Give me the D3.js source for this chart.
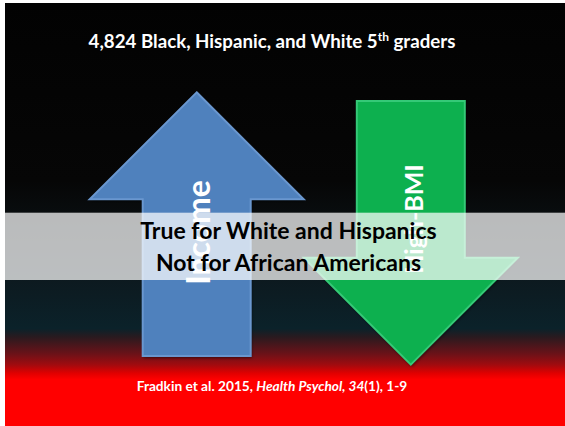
<!DOCTYPE html>
<html><head><meta charset="utf-8">
<script src="https://cdn.jsdelivr.net/npm/d3@7/dist/d3.min.js"></script>
<style>html,body{margin:0;padding:0;background:#fff;}svg{display:block;}</style>
</head><body>
<script>
// ---- data ----
const categories = ["Income", "High-BMI"];
const directions = ["up", "down"];
const arrowColors = ["#4f81bd", "#07b050"];
const arrowEdge = ["#6a97cf", "#35c977"];
const titleText = "4,824 Black, Hispanic, and White 5";
const titleSup = "th";
const titleTail = " graders";
const bandLines = ["True for White and Hispanics", "Not for African Americans"];
const citeParts = [["Fradkin et al. 2015, ", "normal"], ["Health Psychol, 34", "italic"], ["(1), 1-9", "normal"]];

const W = 565, H = 426;
const svg = d3.select("body").append("svg").attr("width", W).attr("height", H);
const defs = svg.append("defs");
const bg = defs.append("linearGradient").attr("id", "bg").attr("gradientUnits", "userSpaceOnUse")
  .attr("x1", 0).attr("y1", 3).attr("x2", 0).attr("y2", 426);
[[0, "#020202"], [0.42, "#060606"], [0.62, "#0d171c"], [0.77, "#0b222a"], [0.79, "#2a1a1f"],
 [0.83, "#6c1218"], [0.855, "#a00b0f"], [0.875, "#e00000"], [0.89, "#ff0000"], [1, "#ff0000"]]
  .forEach(([o, c]) => bg.append("stop").attr("offset", o).attr("stop-color", c));

const sh = defs.append("filter").attr("id", "sh").attr("x", "-10%").attr("y", "-10%").attr("width", "130%").attr("height", "130%");
sh.append("feDropShadow").attr("dx", 1).attr("dy", 2).attr("stdDeviation", 1.5).attr("flood-color", "#000").attr("flood-opacity", 0.5);

svg.append("rect").attr("x", 5).attr("y", 3).attr("width", W - 5).attr("height", H - 3).attr("fill", "url(#bg)");

const font = "Lato, 'Open Sans', sans-serif";

// title
const t = svg.append("text").attr("x", 272).attr("y", 47.5).attr("text-anchor", "middle")
  .attr("fill", "#fff").attr("font-family", font).attr("font-weight", 700).attr("font-size", 18.7);
t.append("tspan").text(titleText);
t.append("tspan").attr("font-size", 12).attr("dy", -7).text(titleSup);
t.append("tspan").attr("dy", 7).text(titleTail);

// arrows
const x = d3.scalePoint().domain(categories).range([196.7, 410.8]);
const y = d3.scaleLinear().domain([0, 1]).range([92.3, 356]);
const shaftW = 108, headW = 214, headH = 107;
const lenPx = 263.7;

function arrowPath(cx, dir, top, bottom) {
  const hw = headW / 2, sw = shaftW / 2;
  if (dir === "up") {
    const hb = top + headH;
    return [[cx, top], [cx + hw, hb], [cx + sw, hb], [cx + sw, bottom], [cx - sw, bottom], [cx - sw, hb], [cx - hw, hb]];
  } else {
    const hb = bottom - headH;
    return [[cx - sw, top], [cx + sw, top], [cx + sw, hb], [cx + hw, hb], [cx, bottom], [cx - hw, hb], [cx - sw, hb]];
  }
}
const tops = [y(0), 101];
categories.forEach((c, i) => {
  const top = tops[i], bottom = top + lenPx;
  const pts = arrowPath(x(c), directions[i], top, bottom);
  const g = svg.append("g");
  g.append("polygon").attr("points", pts.map(p => p.join(",")).join(" "))
    .attr("fill", arrowColors[i]).attr("filter", "url(#sh)");
  g.append("polygon").attr("points", pts.map(p => p.join(",")).join(" "))
    .attr("fill", "none").attr("stroke", arrowEdge[i]).attr("stroke-width", 2).attr("stroke-linejoin", "miter");
});

// rotated labels
const labelPos = [[209.5, 232.5, 32], [423, 219, 25]];
categories.forEach((c, i) => {
  const [lx, ly, fs] = labelPos[i];
  svg.append("text").attr("transform", `translate(${lx},${ly}) rotate(-90)`)
    .attr("text-anchor", "middle").attr("fill", "#fff").attr("font-family", font)
    .attr("font-weight", 700).attr("font-size", fs).text(c);
});

// band
svg.append("rect").attr("x", 5).attr("y", 212.7).attr("width", W - 5).attr("height", 67.3)
  .attr("fill", "#fff").attr("fill-opacity", 0.72);
bandLines.forEach((l, i) => {
  svg.append("text").attr("x", 288.5).attr("y", 239 + i * 31.5).attr("text-anchor", "middle")
    .attr("fill", "#000").attr("font-family", font).attr("font-weight", 700).attr("font-size", 23).text(l);
});

// citation
const ct = svg.append("text").attr("x", 272).attr("y", 390.7).attr("text-anchor", "middle")
  .attr("fill", "#fff").attr("font-family", font).attr("font-weight", 700).attr("font-size", 13.7);
citeParts.forEach(([s, st]) => ct.append("tspan").attr("font-style", st).text(s));
</script>
</body></html>
